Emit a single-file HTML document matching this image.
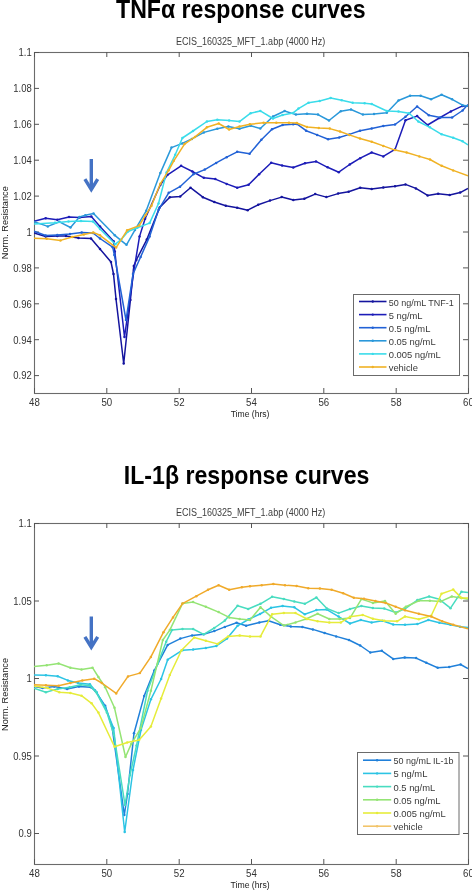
<!DOCTYPE html>
<html><head><meta charset="utf-8"><style>
html,body{margin:0;padding:0;background:#fff;}
body{width:472px;height:890px;overflow:hidden;position:relative;}
svg{position:absolute;left:0;top:0;will-change:transform;}
.t{font-family:"Liberation Sans",sans-serif;font-weight:bold;font-size:26px;fill:#000;}
.st{font-family:"Liberation Sans",sans-serif;font-size:10px;fill:#404040;}
.tk{font-family:"Liberation Sans",sans-serif;font-size:10px;fill:#333;}
.lg{font-family:"Liberation Sans",sans-serif;font-size:9.4px;fill:#3a3a3a;}
.ax{font-family:"Liberation Sans",sans-serif;font-size:9.6px;fill:#222;}
path{fill:none;stroke-width:1.5;stroke-linejoin:round;}
</style></head><body>
<svg width="472" height="890" viewBox="0 0 472 890">
<text x="116" y="17.6" class="t" textLength="249.5" lengthAdjust="spacingAndGlyphs">TNFα response curves</text>
<text x="176" y="45.4" class="st" textLength="149.2" lengthAdjust="spacingAndGlyphs">ECIS_160325_MFT_1.abp (4000 Hz)</text>
<text x="230.7" y="416.8" class="ax" textLength="38.8" lengthAdjust="spacingAndGlyphs">Time (hrs)</text>
<text transform="translate(7.6,259.2) rotate(-90)" class="ax" textLength="73" lengthAdjust="spacingAndGlyphs">Norm. Resistance</text>
<text x="123.8" y="483.6" class="t" textLength="245.6" lengthAdjust="spacingAndGlyphs">IL-1β response curves</text>
<text x="176" y="515.6" class="st" textLength="149.2" lengthAdjust="spacingAndGlyphs">ECIS_160325_MFT_1.abp (4000 Hz)</text>
<text x="230.5" y="887.5" class="ax" textLength="39.2" lengthAdjust="spacingAndGlyphs">Time (hrs)</text>
<text transform="translate(7.6,731) rotate(-90)" class="ax" textLength="73" lengthAdjust="spacingAndGlyphs">Norm. Resistance</text>
<clipPath id="c1"><rect x="34" y="52" width="434" height="341"/></clipPath>
<rect x="34.5" y="52.5" width="434" height="341" fill="none" stroke="#6b6b6b" stroke-width="1.1"/>
<line x1="34.5" y1="393" x2="34.5" y2="388" stroke="#555" stroke-width="1"/>
<line x1="34.5" y1="52" x2="34.5" y2="57" stroke="#555" stroke-width="1"/>
<line x1="106.8" y1="393" x2="106.8" y2="388" stroke="#555" stroke-width="1"/>
<line x1="106.8" y1="52" x2="106.8" y2="57" stroke="#555" stroke-width="1"/>
<line x1="179.2" y1="393" x2="179.2" y2="388" stroke="#555" stroke-width="1"/>
<line x1="179.2" y1="52" x2="179.2" y2="57" stroke="#555" stroke-width="1"/>
<line x1="251.5" y1="393" x2="251.5" y2="388" stroke="#555" stroke-width="1"/>
<line x1="251.5" y1="52" x2="251.5" y2="57" stroke="#555" stroke-width="1"/>
<line x1="323.8" y1="393" x2="323.8" y2="388" stroke="#555" stroke-width="1"/>
<line x1="323.8" y1="52" x2="323.8" y2="57" stroke="#555" stroke-width="1"/>
<line x1="396.2" y1="393" x2="396.2" y2="388" stroke="#555" stroke-width="1"/>
<line x1="396.2" y1="52" x2="396.2" y2="57" stroke="#555" stroke-width="1"/>
<line x1="468.5" y1="393" x2="468.5" y2="388" stroke="#555" stroke-width="1"/>
<line x1="468.5" y1="52" x2="468.5" y2="57" stroke="#555" stroke-width="1"/>
<line x1="34" y1="52.5" x2="39" y2="52.5" stroke="#555" stroke-width="1"/>
<line x1="468" y1="52.5" x2="463" y2="52.5" stroke="#555" stroke-width="1"/>
<line x1="34" y1="88.4" x2="39" y2="88.4" stroke="#555" stroke-width="1"/>
<line x1="468" y1="88.4" x2="463" y2="88.4" stroke="#555" stroke-width="1"/>
<line x1="34" y1="124.3" x2="39" y2="124.3" stroke="#555" stroke-width="1"/>
<line x1="468" y1="124.3" x2="463" y2="124.3" stroke="#555" stroke-width="1"/>
<line x1="34" y1="160.2" x2="39" y2="160.2" stroke="#555" stroke-width="1"/>
<line x1="468" y1="160.2" x2="463" y2="160.2" stroke="#555" stroke-width="1"/>
<line x1="34" y1="196.1" x2="39" y2="196.1" stroke="#555" stroke-width="1"/>
<line x1="468" y1="196.1" x2="463" y2="196.1" stroke="#555" stroke-width="1"/>
<line x1="34" y1="232.0" x2="39" y2="232.0" stroke="#555" stroke-width="1"/>
<line x1="468" y1="232.0" x2="463" y2="232.0" stroke="#555" stroke-width="1"/>
<line x1="34" y1="267.9" x2="39" y2="267.9" stroke="#555" stroke-width="1"/>
<line x1="468" y1="267.9" x2="463" y2="267.9" stroke="#555" stroke-width="1"/>
<line x1="34" y1="303.8" x2="39" y2="303.8" stroke="#555" stroke-width="1"/>
<line x1="468" y1="303.8" x2="463" y2="303.8" stroke="#555" stroke-width="1"/>
<line x1="34" y1="339.7" x2="39" y2="339.7" stroke="#555" stroke-width="1"/>
<line x1="468" y1="339.7" x2="463" y2="339.7" stroke="#555" stroke-width="1"/>
<line x1="34" y1="375.6" x2="39" y2="375.6" stroke="#555" stroke-width="1"/>
<line x1="468" y1="375.6" x2="463" y2="375.6" stroke="#555" stroke-width="1"/>
<path d="M34.0,233.0 L45.7,236.5 L57.3,236.0 L66.0,236.0 L78.5,238.0 L91.0,238.5 L100.0,249.0 L111.0,262.0 L113.5,274.0 L116.0,299.0 L123.7,363.5 L130.4,300.0 L133.8,266.0 L136.3,260.0 L146.8,239.6 L159.7,207.4 L169.8,197.3 L180.2,196.5 L190.5,187.7 L202.9,197.2 L214.3,202.0 L225.8,205.8 L237.2,207.7 L247.7,210.2 L258.2,204.8 L270.0,200.6 L281.7,197.1 L293.3,200.1 L304.3,198.7 L315.2,194.1 L326.4,197.1 L338.1,193.6 L348.6,191.7 L360.2,187.8 L371.7,189.1 L383.3,187.4 L395.0,186.3 L405.5,184.4 L415.9,188.4 L427.6,195.4 L438.1,193.7 L449.7,194.9 L460.2,192.6 L468.0,188.4" stroke="#14149e" clip-path="url(#c1)"/>
<g fill="#14149e"><circle cx="45.7" cy="236.5" r="1.25"/><circle cx="57.3" cy="236.0" r="1.25"/><circle cx="66.0" cy="236.0" r="1.25"/><circle cx="78.5" cy="238.0" r="1.25"/><circle cx="91.0" cy="238.5" r="1.25"/><circle cx="100.0" cy="249.0" r="1.25"/><circle cx="111.0" cy="262.0" r="1.25"/><circle cx="113.5" cy="274.0" r="1.25"/><circle cx="116.0" cy="299.0" r="1.25"/><circle cx="123.7" cy="363.5" r="1.25"/><circle cx="130.4" cy="300.0" r="1.25"/><circle cx="133.8" cy="266.0" r="1.25"/><circle cx="136.3" cy="260.0" r="1.25"/><circle cx="146.8" cy="239.6" r="1.25"/><circle cx="159.7" cy="207.4" r="1.25"/><circle cx="169.8" cy="197.3" r="1.25"/><circle cx="180.2" cy="196.5" r="1.25"/><circle cx="190.5" cy="187.7" r="1.25"/><circle cx="202.9" cy="197.2" r="1.25"/><circle cx="214.3" cy="202.0" r="1.25"/><circle cx="225.8" cy="205.8" r="1.25"/><circle cx="237.2" cy="207.7" r="1.25"/><circle cx="247.7" cy="210.2" r="1.25"/><circle cx="258.2" cy="204.8" r="1.25"/><circle cx="270.0" cy="200.6" r="1.25"/><circle cx="281.7" cy="197.1" r="1.25"/><circle cx="293.3" cy="200.1" r="1.25"/><circle cx="304.3" cy="198.7" r="1.25"/><circle cx="315.2" cy="194.1" r="1.25"/><circle cx="326.4" cy="197.1" r="1.25"/><circle cx="338.1" cy="193.6" r="1.25"/><circle cx="348.6" cy="191.7" r="1.25"/><circle cx="360.2" cy="187.8" r="1.25"/><circle cx="371.7" cy="189.1" r="1.25"/><circle cx="383.3" cy="187.4" r="1.25"/><circle cx="395.0" cy="186.3" r="1.25"/><circle cx="405.5" cy="184.4" r="1.25"/><circle cx="415.9" cy="188.4" r="1.25"/><circle cx="427.6" cy="195.4" r="1.25"/><circle cx="438.1" cy="193.7" r="1.25"/><circle cx="449.7" cy="194.9" r="1.25"/><circle cx="460.2" cy="192.6" r="1.25"/></g>
<path d="M34.0,221.4 L45.7,218.2 L57.3,219.7 L69.0,217.1 L79.6,217.5 L91.3,216.4 L100.0,226.4 L113.6,241.3 L114.8,251.4 L124.5,337.0 L134.0,270.0 L139.5,236.6 L145.1,218.7 L160.3,185.0 L167.6,174.8 L181.1,165.8 L192.4,171.5 L203.8,177.8 L215.3,179.1 L226.7,183.9 L237.2,187.7 L248.6,184.8 L259.1,174.3 L271.2,162.8 L282.1,165.6 L293.3,167.5 L305.0,163.3 L316.0,161.4 L327.6,167.3 L338.8,172.2 L349.7,164.5 L360.2,158.2 L371.7,152.5 L383.3,156.4 L395.0,149.4 L405.5,120.3 L417.1,116.1 L427.6,125.0 L439.3,118.0 L450.9,111.4 L462.6,105.9 L468.0,105.9" stroke="#1c1cb8" clip-path="url(#c1)"/>
<g fill="#1c1cb8"><circle cx="45.7" cy="218.2" r="1.25"/><circle cx="57.3" cy="219.7" r="1.25"/><circle cx="69.0" cy="217.1" r="1.25"/><circle cx="79.6" cy="217.5" r="1.25"/><circle cx="91.3" cy="216.4" r="1.25"/><circle cx="100.0" cy="226.4" r="1.25"/><circle cx="113.6" cy="241.3" r="1.25"/><circle cx="114.8" cy="251.4" r="1.25"/><circle cx="124.5" cy="337.0" r="1.25"/><circle cx="134.0" cy="270.0" r="1.25"/><circle cx="139.5" cy="236.6" r="1.25"/><circle cx="145.1" cy="218.7" r="1.25"/><circle cx="160.3" cy="185.0" r="1.25"/><circle cx="167.6" cy="174.8" r="1.25"/><circle cx="181.1" cy="165.8" r="1.25"/><circle cx="192.4" cy="171.5" r="1.25"/><circle cx="203.8" cy="177.8" r="1.25"/><circle cx="215.3" cy="179.1" r="1.25"/><circle cx="226.7" cy="183.9" r="1.25"/><circle cx="237.2" cy="187.7" r="1.25"/><circle cx="248.6" cy="184.8" r="1.25"/><circle cx="259.1" cy="174.3" r="1.25"/><circle cx="271.2" cy="162.8" r="1.25"/><circle cx="282.1" cy="165.6" r="1.25"/><circle cx="293.3" cy="167.5" r="1.25"/><circle cx="305.0" cy="163.3" r="1.25"/><circle cx="316.0" cy="161.4" r="1.25"/><circle cx="327.6" cy="167.3" r="1.25"/><circle cx="338.8" cy="172.2" r="1.25"/><circle cx="349.7" cy="164.5" r="1.25"/><circle cx="360.2" cy="158.2" r="1.25"/><circle cx="371.7" cy="152.5" r="1.25"/><circle cx="383.3" cy="156.4" r="1.25"/><circle cx="395.0" cy="149.4" r="1.25"/><circle cx="405.5" cy="120.3" r="1.25"/><circle cx="417.1" cy="116.1" r="1.25"/><circle cx="427.6" cy="125.0" r="1.25"/><circle cx="439.3" cy="118.0" r="1.25"/><circle cx="450.9" cy="111.4" r="1.25"/><circle cx="462.6" cy="105.9" r="1.25"/></g>
<path d="M34.0,231.3 L45.7,235.5 L57.3,234.9 L70.0,234.0 L81.7,232.4 L93.0,233.0 L100.0,238.5 L112.7,247.2 L114.4,255.0 L126.0,320.0 L133.0,274.0 L140.6,257.0 L149.6,236.6 L158.6,209.7 L168.7,192.8 L180.0,186.7 L193.3,174.3 L204.8,169.6 L216.2,162.9 L226.7,157.2 L237.2,151.8 L249.6,153.7 L261.4,139.8 L272.0,129.2 L282.6,125.0 L293.2,124.3 L296.8,123.9 L306.1,130.7 L317.1,134.9 L328.1,139.2 L339.2,137.5 L349.3,134.4 L360.0,130.8 L371.7,128.5 L383.3,126.1 L395.0,124.5 L405.5,116.8 L417.1,106.5 L428.8,115.2 L440.4,117.5 L452.1,117.5 L462.6,110.5 L468.0,104.5" stroke="#2262d6" clip-path="url(#c1)"/>
<g fill="#2262d6"><circle cx="45.7" cy="235.5" r="1.25"/><circle cx="57.3" cy="234.9" r="1.25"/><circle cx="70.0" cy="234.0" r="1.25"/><circle cx="81.7" cy="232.4" r="1.25"/><circle cx="93.0" cy="233.0" r="1.25"/><circle cx="100.0" cy="238.5" r="1.25"/><circle cx="112.7" cy="247.2" r="1.25"/><circle cx="114.4" cy="255.0" r="1.25"/><circle cx="126.0" cy="320.0" r="1.25"/><circle cx="133.0" cy="274.0" r="1.25"/><circle cx="140.6" cy="257.0" r="1.25"/><circle cx="149.6" cy="236.6" r="1.25"/><circle cx="158.6" cy="209.7" r="1.25"/><circle cx="168.7" cy="192.8" r="1.25"/><circle cx="180.0" cy="186.7" r="1.25"/><circle cx="193.3" cy="174.3" r="1.25"/><circle cx="204.8" cy="169.6" r="1.25"/><circle cx="216.2" cy="162.9" r="1.25"/><circle cx="226.7" cy="157.2" r="1.25"/><circle cx="237.2" cy="151.8" r="1.25"/><circle cx="249.6" cy="153.7" r="1.25"/><circle cx="261.4" cy="139.8" r="1.25"/><circle cx="272.0" cy="129.2" r="1.25"/><circle cx="282.6" cy="125.0" r="1.25"/><circle cx="293.2" cy="124.3" r="1.25"/><circle cx="296.8" cy="123.9" r="1.25"/><circle cx="306.1" cy="130.7" r="1.25"/><circle cx="317.1" cy="134.9" r="1.25"/><circle cx="328.1" cy="139.2" r="1.25"/><circle cx="339.2" cy="137.5" r="1.25"/><circle cx="349.3" cy="134.4" r="1.25"/><circle cx="360.0" cy="130.8" r="1.25"/><circle cx="371.7" cy="128.5" r="1.25"/><circle cx="383.3" cy="126.1" r="1.25"/><circle cx="395.0" cy="124.5" r="1.25"/><circle cx="405.5" cy="116.8" r="1.25"/><circle cx="417.1" cy="106.5" r="1.25"/><circle cx="428.8" cy="115.2" r="1.25"/><circle cx="440.4" cy="117.5" r="1.25"/><circle cx="452.1" cy="117.5" r="1.25"/><circle cx="462.6" cy="110.5" r="1.25"/></g>
<path d="M34.0,221.8 L47.8,226.4 L59.4,221.8 L70.5,227.5 L79.5,216.9 L85.4,215.2 L93.5,213.5 L114.8,235.3 L126.5,244.8 L135.0,229.9 L146.2,210.8 L160.3,173.1 L171.5,147.6 L182.2,143.4 L191.9,138.9 L203.9,132.4 L217.3,128.7 L228.4,126.5 L239.5,128.7 L250.6,125.8 L260.3,128.5 L273.0,116.5 L284.6,111.0 L295.9,114.6 L307.0,113.7 L318.0,114.6 L329.0,120.5 L340.8,111.2 L351.0,109.5 L362.9,114.6 L374.0,114.0 L386.8,112.8 L398.5,100.5 L410.1,95.8 L420.6,95.8 L431.1,99.3 L441.6,94.7 L452.1,99.3 L462.6,105.2 L468.0,105.9" stroke="#2a98da" clip-path="url(#c1)"/>
<g fill="#2a98da"><circle cx="47.8" cy="226.4" r="1.25"/><circle cx="59.4" cy="221.8" r="1.25"/><circle cx="70.5" cy="227.5" r="1.25"/><circle cx="79.5" cy="216.9" r="1.25"/><circle cx="85.4" cy="215.2" r="1.25"/><circle cx="93.5" cy="213.5" r="1.25"/><circle cx="114.8" cy="235.3" r="1.25"/><circle cx="126.5" cy="244.8" r="1.25"/><circle cx="135.0" cy="229.9" r="1.25"/><circle cx="146.2" cy="210.8" r="1.25"/><circle cx="160.3" cy="173.1" r="1.25"/><circle cx="171.5" cy="147.6" r="1.25"/><circle cx="182.2" cy="143.4" r="1.25"/><circle cx="191.9" cy="138.9" r="1.25"/><circle cx="203.9" cy="132.4" r="1.25"/><circle cx="217.3" cy="128.7" r="1.25"/><circle cx="228.4" cy="126.5" r="1.25"/><circle cx="239.5" cy="128.7" r="1.25"/><circle cx="250.6" cy="125.8" r="1.25"/><circle cx="260.3" cy="128.5" r="1.25"/><circle cx="273.0" cy="116.5" r="1.25"/><circle cx="284.6" cy="111.0" r="1.25"/><circle cx="295.9" cy="114.6" r="1.25"/><circle cx="307.0" cy="113.7" r="1.25"/><circle cx="318.0" cy="114.6" r="1.25"/><circle cx="329.0" cy="120.5" r="1.25"/><circle cx="340.8" cy="111.2" r="1.25"/><circle cx="351.0" cy="109.5" r="1.25"/><circle cx="362.9" cy="114.6" r="1.25"/><circle cx="374.0" cy="114.0" r="1.25"/><circle cx="386.8" cy="112.8" r="1.25"/><circle cx="398.5" cy="100.5" r="1.25"/><circle cx="410.1" cy="95.8" r="1.25"/><circle cx="420.6" cy="95.8" r="1.25"/><circle cx="431.1" cy="99.3" r="1.25"/><circle cx="441.6" cy="94.7" r="1.25"/><circle cx="452.1" cy="99.3" r="1.25"/><circle cx="462.6" cy="105.2" r="1.25"/></g>
<path d="M34.0,223.9 L55.0,222.8 L68.5,221.5 L81.0,221.1 L93.0,221.5 L100.0,229.0 L115.3,244.2 L121.2,239.6 L128.0,231.5 L137.3,227.7 L149.6,223.1 L158.5,203.5 L166.5,172.6 L175.2,154.8 L182.4,138.0 L193.0,131.0 L206.9,121.5 L217.3,119.8 L229.1,120.6 L239.5,121.6 L250.6,113.2 L260.3,110.9 L273.0,118.5 L282.6,115.0 L293.2,112.9 L298.5,108.6 L308.6,102.7 L319.7,101.0 L330.7,98.1 L341.7,100.2 L352.7,102.7 L364.6,103.2 L371.7,104.0 L386.8,111.0 L398.5,111.4 L409.0,113.3 L418.3,121.5 L429.9,127.3 L441.6,134.3 L453.2,137.8 L462.6,141.3 L468.0,144.8" stroke="#3adcea" clip-path="url(#c1)"/>
<g fill="#3adcea"><circle cx="55.0" cy="222.8" r="1.25"/><circle cx="68.5" cy="221.5" r="1.25"/><circle cx="81.0" cy="221.1" r="1.25"/><circle cx="93.0" cy="221.5" r="1.25"/><circle cx="100.0" cy="229.0" r="1.25"/><circle cx="115.3" cy="244.2" r="1.25"/><circle cx="121.2" cy="239.6" r="1.25"/><circle cx="128.0" cy="231.5" r="1.25"/><circle cx="137.3" cy="227.7" r="1.25"/><circle cx="149.6" cy="223.1" r="1.25"/><circle cx="158.5" cy="203.5" r="1.25"/><circle cx="166.5" cy="172.6" r="1.25"/><circle cx="175.2" cy="154.8" r="1.25"/><circle cx="182.4" cy="138.0" r="1.25"/><circle cx="193.0" cy="131.0" r="1.25"/><circle cx="206.9" cy="121.5" r="1.25"/><circle cx="217.3" cy="119.8" r="1.25"/><circle cx="229.1" cy="120.6" r="1.25"/><circle cx="239.5" cy="121.6" r="1.25"/><circle cx="250.6" cy="113.2" r="1.25"/><circle cx="260.3" cy="110.9" r="1.25"/><circle cx="273.0" cy="118.5" r="1.25"/><circle cx="282.6" cy="115.0" r="1.25"/><circle cx="293.2" cy="112.9" r="1.25"/><circle cx="298.5" cy="108.6" r="1.25"/><circle cx="308.6" cy="102.7" r="1.25"/><circle cx="319.7" cy="101.0" r="1.25"/><circle cx="330.7" cy="98.1" r="1.25"/><circle cx="341.7" cy="100.2" r="1.25"/><circle cx="352.7" cy="102.7" r="1.25"/><circle cx="364.6" cy="103.2" r="1.25"/><circle cx="371.7" cy="104.0" r="1.25"/><circle cx="386.8" cy="111.0" r="1.25"/><circle cx="398.5" cy="111.4" r="1.25"/><circle cx="409.0" cy="113.3" r="1.25"/><circle cx="418.3" cy="121.5" r="1.25"/><circle cx="429.9" cy="127.3" r="1.25"/><circle cx="441.6" cy="134.3" r="1.25"/><circle cx="453.2" cy="137.8" r="1.25"/><circle cx="462.6" cy="141.3" r="1.25"/></g>
<path d="M34.0,238.3 L46.7,238.7 L60.5,240.4 L72.1,237.0 L83.8,234.5 L93.3,232.4 L100.0,235.3 L116.1,247.6 L127.1,230.3 L139.2,225.6 L145.6,215.1 L151.5,205.8 L160.3,183.8 L168.7,170.3 L173.8,160.8 L184.5,144.1 L195.0,136.9 L206.9,127.3 L218.7,123.5 L229.1,129.5 L239.5,126.5 L249.9,124.3 L263.6,122.8 L276.3,122.8 L289.0,122.8 L296.8,123.0 L307.0,127.0 L318.8,128.1 L329.8,128.6 L340.0,131.5 L349.3,134.9 L360.0,138.5 L371.7,141.7 L383.3,145.9 L395.0,150.1 L406.6,152.5 L419.4,156.4 L430.0,159.5 L441.6,165.8 L453.2,170.4 L468.0,175.8" stroke="#f0b224" clip-path="url(#c1)"/>
<g fill="#f0b224"><circle cx="46.7" cy="238.7" r="1.25"/><circle cx="60.5" cy="240.4" r="1.25"/><circle cx="72.1" cy="237.0" r="1.25"/><circle cx="83.8" cy="234.5" r="1.25"/><circle cx="93.3" cy="232.4" r="1.25"/><circle cx="100.0" cy="235.3" r="1.25"/><circle cx="116.1" cy="247.6" r="1.25"/><circle cx="127.1" cy="230.3" r="1.25"/><circle cx="139.2" cy="225.6" r="1.25"/><circle cx="145.6" cy="215.1" r="1.25"/><circle cx="151.5" cy="205.8" r="1.25"/><circle cx="160.3" cy="183.8" r="1.25"/><circle cx="168.7" cy="170.3" r="1.25"/><circle cx="173.8" cy="160.8" r="1.25"/><circle cx="184.5" cy="144.1" r="1.25"/><circle cx="195.0" cy="136.9" r="1.25"/><circle cx="206.9" cy="127.3" r="1.25"/><circle cx="218.7" cy="123.5" r="1.25"/><circle cx="229.1" cy="129.5" r="1.25"/><circle cx="239.5" cy="126.5" r="1.25"/><circle cx="249.9" cy="124.3" r="1.25"/><circle cx="263.6" cy="122.8" r="1.25"/><circle cx="276.3" cy="122.8" r="1.25"/><circle cx="289.0" cy="122.8" r="1.25"/><circle cx="296.8" cy="123.0" r="1.25"/><circle cx="307.0" cy="127.0" r="1.25"/><circle cx="318.8" cy="128.1" r="1.25"/><circle cx="329.8" cy="128.6" r="1.25"/><circle cx="340.0" cy="131.5" r="1.25"/><circle cx="349.3" cy="134.9" r="1.25"/><circle cx="360.0" cy="138.5" r="1.25"/><circle cx="371.7" cy="141.7" r="1.25"/><circle cx="383.3" cy="145.9" r="1.25"/><circle cx="395.0" cy="150.1" r="1.25"/><circle cx="406.6" cy="152.5" r="1.25"/><circle cx="419.4" cy="156.4" r="1.25"/><circle cx="430.0" cy="159.5" r="1.25"/><circle cx="441.6" cy="165.8" r="1.25"/><circle cx="453.2" cy="170.4" r="1.25"/></g>
<text transform="translate(31.7,56.40) scale(0.95,1)" text-anchor="end" class="tk">1.1</text>
<text transform="translate(31.7,92.29) scale(0.95,1)" text-anchor="end" class="tk">1.08</text>
<text transform="translate(31.7,128.19) scale(0.95,1)" text-anchor="end" class="tk">1.06</text>
<text transform="translate(31.7,164.08) scale(0.95,1)" text-anchor="end" class="tk">1.04</text>
<text transform="translate(31.7,199.98) scale(0.95,1)" text-anchor="end" class="tk">1.02</text>
<text transform="translate(31.7,235.87) scale(0.95,1)" text-anchor="end" class="tk">1</text>
<text transform="translate(31.7,271.77) scale(0.95,1)" text-anchor="end" class="tk">0.98</text>
<text transform="translate(31.7,307.66) scale(0.95,1)" text-anchor="end" class="tk">0.96</text>
<text transform="translate(31.7,343.56) scale(0.95,1)" text-anchor="end" class="tk">0.94</text>
<text transform="translate(31.7,379.45) scale(0.95,1)" text-anchor="end" class="tk">0.92</text>
<text transform="translate(34.50,405.50) scale(0.97,1)" text-anchor="middle" class="tk">48</text>
<text transform="translate(106.83,405.50) scale(0.97,1)" text-anchor="middle" class="tk">50</text>
<text transform="translate(179.17,405.50) scale(0.97,1)" text-anchor="middle" class="tk">52</text>
<text transform="translate(251.50,405.50) scale(0.97,1)" text-anchor="middle" class="tk">54</text>
<text transform="translate(323.83,405.50) scale(0.97,1)" text-anchor="middle" class="tk">56</text>
<text transform="translate(396.17,405.50) scale(0.97,1)" text-anchor="middle" class="tk">58</text>
<text transform="translate(468.50,405.50) scale(0.97,1)" text-anchor="middle" class="tk">60</text>
<rect x="353.5" y="294.5" width="106" height="81" fill="#fff" stroke="#6b6b6b" stroke-width="1"/>
<line x1="359" y1="301.5" x2="386.5" y2="301.5" stroke="#14149e" stroke-width="1.6"/>
<circle cx="372.75" cy="301.5" r="1.2" fill="#14149e"/>
<text x="388.7" y="305.5" class="lg" textLength="65" lengthAdjust="spacingAndGlyphs">50 ng/mL TNF-1</text>
<line x1="359" y1="314.6" x2="386.5" y2="314.6" stroke="#1c1cb8" stroke-width="1.6"/>
<circle cx="372.75" cy="314.6" r="1.2" fill="#1c1cb8"/>
<text x="388.7" y="318.6" class="lg">5 ng/mL</text>
<line x1="359" y1="327.7" x2="386.5" y2="327.7" stroke="#2262d6" stroke-width="1.6"/>
<circle cx="372.75" cy="327.7" r="1.2" fill="#2262d6"/>
<text x="388.7" y="331.7" class="lg">0.5 ng/mL</text>
<line x1="359" y1="340.8" x2="386.5" y2="340.8" stroke="#2a98da" stroke-width="1.6"/>
<circle cx="372.75" cy="340.8" r="1.2" fill="#2a98da"/>
<text x="388.7" y="344.8" class="lg">0.05 ng/mL</text>
<line x1="359" y1="353.9" x2="386.5" y2="353.9" stroke="#3adcea" stroke-width="1.6"/>
<circle cx="372.75" cy="353.9" r="1.2" fill="#3adcea"/>
<text x="388.7" y="357.9" class="lg">0.005 ng/mL</text>
<line x1="359" y1="367.0" x2="386.5" y2="367.0" stroke="#f0b224" stroke-width="1.6"/>
<circle cx="372.75" cy="367.0" r="1.2" fill="#f0b224"/>
<text x="388.7" y="371.0" class="lg">vehicle</text>
<g stroke="#4472c4" stroke-width="3.4" fill="none" stroke-linecap="butt" stroke-linejoin="miter"><line x1="91.3" y1="159" x2="91.3" y2="189"/><polyline points="84.89999999999999,179.2 91.3,189.6 97.7,179.2"/></g>
<clipPath id="c2"><rect x="34" y="523" width="434" height="341"/></clipPath>
<rect x="34.5" y="523.5" width="434" height="341" fill="none" stroke="#6b6b6b" stroke-width="1.1"/>
<line x1="34.5" y1="864" x2="34.5" y2="859" stroke="#555" stroke-width="1"/>
<line x1="34.5" y1="523" x2="34.5" y2="528" stroke="#555" stroke-width="1"/>
<line x1="106.8" y1="864" x2="106.8" y2="859" stroke="#555" stroke-width="1"/>
<line x1="106.8" y1="523" x2="106.8" y2="528" stroke="#555" stroke-width="1"/>
<line x1="179.2" y1="864" x2="179.2" y2="859" stroke="#555" stroke-width="1"/>
<line x1="179.2" y1="523" x2="179.2" y2="528" stroke="#555" stroke-width="1"/>
<line x1="251.5" y1="864" x2="251.5" y2="859" stroke="#555" stroke-width="1"/>
<line x1="251.5" y1="523" x2="251.5" y2="528" stroke="#555" stroke-width="1"/>
<line x1="323.8" y1="864" x2="323.8" y2="859" stroke="#555" stroke-width="1"/>
<line x1="323.8" y1="523" x2="323.8" y2="528" stroke="#555" stroke-width="1"/>
<line x1="396.2" y1="864" x2="396.2" y2="859" stroke="#555" stroke-width="1"/>
<line x1="396.2" y1="523" x2="396.2" y2="528" stroke="#555" stroke-width="1"/>
<line x1="468.5" y1="864" x2="468.5" y2="859" stroke="#555" stroke-width="1"/>
<line x1="468.5" y1="523" x2="468.5" y2="528" stroke="#555" stroke-width="1"/>
<line x1="34" y1="523.5" x2="39" y2="523.5" stroke="#555" stroke-width="1"/>
<line x1="468" y1="523.5" x2="463" y2="523.5" stroke="#555" stroke-width="1"/>
<line x1="34" y1="601.0" x2="39" y2="601.0" stroke="#555" stroke-width="1"/>
<line x1="468" y1="601.0" x2="463" y2="601.0" stroke="#555" stroke-width="1"/>
<line x1="34" y1="678.5" x2="39" y2="678.5" stroke="#555" stroke-width="1"/>
<line x1="468" y1="678.5" x2="463" y2="678.5" stroke="#555" stroke-width="1"/>
<line x1="34" y1="756.0" x2="39" y2="756.0" stroke="#555" stroke-width="1"/>
<line x1="468" y1="756.0" x2="463" y2="756.0" stroke="#555" stroke-width="1"/>
<line x1="34" y1="833.5" x2="39" y2="833.5" stroke="#555" stroke-width="1"/>
<line x1="468" y1="833.5" x2="463" y2="833.5" stroke="#555" stroke-width="1"/>
<path d="M34.0,686.4 L42.5,688.1 L54.3,686.4 L67.1,688.9 L78.9,686.4 L90.8,687.2 L95.0,690.6 L105.2,705.8 L112.0,726.4 L124.3,815.0 L127.5,794.0 L134.0,733.2 L144.2,695.9 L154.3,670.5 L167.7,644.9 L180.4,638.6 L192.1,635.4 L203.7,634.3 L214.3,631.1 L224.9,626.9 L236.6,622.7 L246.1,625.8 L259.3,622.4 L268.6,620.8 L280.3,624.8 L290.8,626.4 L302.4,627.1 L312.9,629.4 L324.6,633.0 L336.2,636.4 L349.0,640.0 L360.2,645.5 L370.3,652.5 L381.8,650.8 L393.2,658.9 L404.7,657.6 L416.1,658.1 L426.3,662.7 L437.7,667.8 L449.2,667.0 L460.6,664.5 L468.0,668.6" stroke="#2080da" clip-path="url(#c2)"/>
<g fill="#2080da"><circle cx="42.5" cy="688.1" r="1.25"/><circle cx="54.3" cy="686.4" r="1.25"/><circle cx="67.1" cy="688.9" r="1.25"/><circle cx="78.9" cy="686.4" r="1.25"/><circle cx="90.8" cy="687.2" r="1.25"/><circle cx="95.0" cy="690.6" r="1.25"/><circle cx="105.2" cy="705.8" r="1.25"/><circle cx="112.0" cy="726.4" r="1.25"/><circle cx="124.3" cy="815.0" r="1.25"/><circle cx="127.5" cy="794.0" r="1.25"/><circle cx="134.0" cy="733.2" r="1.25"/><circle cx="144.2" cy="695.9" r="1.25"/><circle cx="154.3" cy="670.5" r="1.25"/><circle cx="167.7" cy="644.9" r="1.25"/><circle cx="180.4" cy="638.6" r="1.25"/><circle cx="192.1" cy="635.4" r="1.25"/><circle cx="203.7" cy="634.3" r="1.25"/><circle cx="214.3" cy="631.1" r="1.25"/><circle cx="224.9" cy="626.9" r="1.25"/><circle cx="236.6" cy="622.7" r="1.25"/><circle cx="246.1" cy="625.8" r="1.25"/><circle cx="259.3" cy="622.4" r="1.25"/><circle cx="268.6" cy="620.8" r="1.25"/><circle cx="280.3" cy="624.8" r="1.25"/><circle cx="290.8" cy="626.4" r="1.25"/><circle cx="302.4" cy="627.1" r="1.25"/><circle cx="312.9" cy="629.4" r="1.25"/><circle cx="324.6" cy="633.0" r="1.25"/><circle cx="336.2" cy="636.4" r="1.25"/><circle cx="349.0" cy="640.0" r="1.25"/><circle cx="360.2" cy="645.5" r="1.25"/><circle cx="370.3" cy="652.5" r="1.25"/><circle cx="381.8" cy="650.8" r="1.25"/><circle cx="393.2" cy="658.9" r="1.25"/><circle cx="404.7" cy="657.6" r="1.25"/><circle cx="416.1" cy="658.1" r="1.25"/><circle cx="426.3" cy="662.7" r="1.25"/><circle cx="437.7" cy="667.8" r="1.25"/><circle cx="449.2" cy="667.0" r="1.25"/><circle cx="460.6" cy="664.5" r="1.25"/></g>
<path d="M34.0,675.0 L45.9,675.3 L57.7,676.2 L67.9,680.4 L78.1,683.0 L89.9,684.2 L96.7,692.3 L105.2,707.5 L113.6,728.1 L124.7,832.0 L133.0,770.0 L141.0,730.0 L150.9,699.3 L161.1,679.0 L167.7,659.7 L182.5,650.2 L193.1,649.6 L205.8,648.1 L216.4,646.0 L227.0,638.6 L237.6,625.8 L248.2,619.5 L260.0,614.0 L271.0,607.8 L282.6,606.1 L294.3,607.3 L304.8,614.3 L316.4,610.1 L326.9,609.6 L338.6,616.6 L350.0,623.5 L360.8,620.0 L371.6,622.6 L382.4,620.7 L393.2,624.5 L405.0,624.8 L417.4,624.1 L428.4,620.0 L439.4,622.7 L450.5,624.8 L460.1,626.8 L468.0,627.5" stroke="#2cc4e4" clip-path="url(#c2)"/>
<g fill="#2cc4e4"><circle cx="45.9" cy="675.3" r="1.25"/><circle cx="57.7" cy="676.2" r="1.25"/><circle cx="67.9" cy="680.4" r="1.25"/><circle cx="78.1" cy="683.0" r="1.25"/><circle cx="89.9" cy="684.2" r="1.25"/><circle cx="96.7" cy="692.3" r="1.25"/><circle cx="105.2" cy="707.5" r="1.25"/><circle cx="113.6" cy="728.1" r="1.25"/><circle cx="124.7" cy="832.0" r="1.25"/><circle cx="133.0" cy="770.0" r="1.25"/><circle cx="141.0" cy="730.0" r="1.25"/><circle cx="150.9" cy="699.3" r="1.25"/><circle cx="161.1" cy="679.0" r="1.25"/><circle cx="167.7" cy="659.7" r="1.25"/><circle cx="182.5" cy="650.2" r="1.25"/><circle cx="193.1" cy="649.6" r="1.25"/><circle cx="205.8" cy="648.1" r="1.25"/><circle cx="216.4" cy="646.0" r="1.25"/><circle cx="227.0" cy="638.6" r="1.25"/><circle cx="237.6" cy="625.8" r="1.25"/><circle cx="248.2" cy="619.5" r="1.25"/><circle cx="260.0" cy="614.0" r="1.25"/><circle cx="271.0" cy="607.8" r="1.25"/><circle cx="282.6" cy="606.1" r="1.25"/><circle cx="294.3" cy="607.3" r="1.25"/><circle cx="304.8" cy="614.3" r="1.25"/><circle cx="316.4" cy="610.1" r="1.25"/><circle cx="326.9" cy="609.6" r="1.25"/><circle cx="338.6" cy="616.6" r="1.25"/><circle cx="350.0" cy="623.5" r="1.25"/><circle cx="360.8" cy="620.0" r="1.25"/><circle cx="371.6" cy="622.6" r="1.25"/><circle cx="382.4" cy="620.7" r="1.25"/><circle cx="393.2" cy="624.5" r="1.25"/><circle cx="405.0" cy="624.8" r="1.25"/><circle cx="417.4" cy="624.1" r="1.25"/><circle cx="428.4" cy="620.0" r="1.25"/><circle cx="439.4" cy="622.7" r="1.25"/><circle cx="450.5" cy="624.8" r="1.25"/><circle cx="460.1" cy="626.8" r="1.25"/></g>
<path d="M34.0,688.1 L45.9,692.3 L57.7,688.9 L69.6,687.2 L80.6,684.7 L89.9,685.8 L96.0,692.0 L106.9,712.6 L114.0,735.0 L125.0,805.0 L130.0,775.0 L136.5,745.6 L147.5,690.8 L157.7,663.7 L166.2,641.7 L172.0,630.1 L182.5,629.0 L193.1,629.0 L203.7,634.3 L214.3,628.0 L224.9,620.6 L237.6,605.7 L248.2,609.0 L260.5,603.8 L272.1,596.8 L283.8,599.1 L294.3,601.5 L304.8,603.8 L316.4,597.5 L326.9,608.5 L338.6,613.1 L350.0,609.0 L361.4,606.0 L372.9,607.9 L384.3,608.6 L395.8,612.5 L405.0,608.9 L417.4,600.0 L429.1,596.5 L439.4,599.3 L450.5,608.2 L461.5,591.7 L468.0,592.4" stroke="#48dcc0" clip-path="url(#c2)"/>
<g fill="#48dcc0"><circle cx="45.9" cy="692.3" r="1.25"/><circle cx="57.7" cy="688.9" r="1.25"/><circle cx="69.6" cy="687.2" r="1.25"/><circle cx="80.6" cy="684.7" r="1.25"/><circle cx="89.9" cy="685.8" r="1.25"/><circle cx="96.0" cy="692.0" r="1.25"/><circle cx="106.9" cy="712.6" r="1.25"/><circle cx="114.0" cy="735.0" r="1.25"/><circle cx="125.0" cy="805.0" r="1.25"/><circle cx="130.0" cy="775.0" r="1.25"/><circle cx="136.5" cy="745.6" r="1.25"/><circle cx="147.5" cy="690.8" r="1.25"/><circle cx="157.7" cy="663.7" r="1.25"/><circle cx="166.2" cy="641.7" r="1.25"/><circle cx="172.0" cy="630.1" r="1.25"/><circle cx="182.5" cy="629.0" r="1.25"/><circle cx="193.1" cy="629.0" r="1.25"/><circle cx="203.7" cy="634.3" r="1.25"/><circle cx="214.3" cy="628.0" r="1.25"/><circle cx="224.9" cy="620.6" r="1.25"/><circle cx="237.6" cy="605.7" r="1.25"/><circle cx="248.2" cy="609.0" r="1.25"/><circle cx="260.5" cy="603.8" r="1.25"/><circle cx="272.1" cy="596.8" r="1.25"/><circle cx="283.8" cy="599.1" r="1.25"/><circle cx="294.3" cy="601.5" r="1.25"/><circle cx="304.8" cy="603.8" r="1.25"/><circle cx="316.4" cy="597.5" r="1.25"/><circle cx="326.9" cy="608.5" r="1.25"/><circle cx="338.6" cy="613.1" r="1.25"/><circle cx="350.0" cy="609.0" r="1.25"/><circle cx="361.4" cy="606.0" r="1.25"/><circle cx="372.9" cy="607.9" r="1.25"/><circle cx="384.3" cy="608.6" r="1.25"/><circle cx="395.8" cy="612.5" r="1.25"/><circle cx="405.0" cy="608.9" r="1.25"/><circle cx="417.4" cy="600.0" r="1.25"/><circle cx="429.1" cy="596.5" r="1.25"/><circle cx="439.4" cy="599.3" r="1.25"/><circle cx="450.5" cy="608.2" r="1.25"/><circle cx="461.5" cy="591.7" r="1.25"/></g>
<path d="M34.0,666.5 L46.7,665.2 L58.6,663.5 L70.4,667.7 L81.5,669.4 L92.5,667.7 L98.4,677.0 L105.2,687.2 L114.5,707.8 L125.5,757.0 L131.3,743.9 L140.8,728.1 L150.9,690.8 L162.8,640.0 L169.8,630.1 L182.5,603.6 L193.1,602.1 L205.8,606.8 L218.6,612.1 L229.2,617.4 L239.7,619.1 L250.0,620.1 L260.5,607.3 L271.0,616.6 L283.8,625.5 L295.5,622.4 L306.0,619.0 L317.6,613.8 L329.3,619.0 L339.7,619.0 L350.0,618.1 L361.4,599.1 L372.9,602.9 L385.0,601.0 L395.7,613.7 L405.9,606.7 L418.8,600.7 L429.8,600.7 L440.8,601.4 L451.8,596.5 L461.5,597.9 L468.0,599.3" stroke="#94e474" clip-path="url(#c2)"/>
<g fill="#94e474"><circle cx="46.7" cy="665.2" r="1.25"/><circle cx="58.6" cy="663.5" r="1.25"/><circle cx="70.4" cy="667.7" r="1.25"/><circle cx="81.5" cy="669.4" r="1.25"/><circle cx="92.5" cy="667.7" r="1.25"/><circle cx="98.4" cy="677.0" r="1.25"/><circle cx="105.2" cy="687.2" r="1.25"/><circle cx="114.5" cy="707.8" r="1.25"/><circle cx="125.5" cy="757.0" r="1.25"/><circle cx="131.3" cy="743.9" r="1.25"/><circle cx="140.8" cy="728.1" r="1.25"/><circle cx="150.9" cy="690.8" r="1.25"/><circle cx="162.8" cy="640.0" r="1.25"/><circle cx="169.8" cy="630.1" r="1.25"/><circle cx="182.5" cy="603.6" r="1.25"/><circle cx="193.1" cy="602.1" r="1.25"/><circle cx="205.8" cy="606.8" r="1.25"/><circle cx="218.6" cy="612.1" r="1.25"/><circle cx="229.2" cy="617.4" r="1.25"/><circle cx="239.7" cy="619.1" r="1.25"/><circle cx="250.0" cy="620.1" r="1.25"/><circle cx="260.5" cy="607.3" r="1.25"/><circle cx="271.0" cy="616.6" r="1.25"/><circle cx="283.8" cy="625.5" r="1.25"/><circle cx="295.5" cy="622.4" r="1.25"/><circle cx="306.0" cy="619.0" r="1.25"/><circle cx="317.6" cy="613.8" r="1.25"/><circle cx="329.3" cy="619.0" r="1.25"/><circle cx="339.7" cy="619.0" r="1.25"/><circle cx="350.0" cy="618.1" r="1.25"/><circle cx="361.4" cy="599.1" r="1.25"/><circle cx="372.9" cy="602.9" r="1.25"/><circle cx="385.0" cy="601.0" r="1.25"/><circle cx="395.7" cy="613.7" r="1.25"/><circle cx="405.9" cy="606.7" r="1.25"/><circle cx="418.8" cy="600.7" r="1.25"/><circle cx="429.8" cy="600.7" r="1.25"/><circle cx="440.8" cy="601.4" r="1.25"/><circle cx="451.8" cy="596.5" r="1.25"/><circle cx="461.5" cy="597.9" r="1.25"/></g>
<path d="M34.0,686.0 L47.6,688.1 L59.4,692.3 L70.4,693.1 L81.5,695.7 L91.6,703.3 L98.4,712.6 L114.5,746.8 L127.2,742.5 L139.1,740.0 L150.9,726.4 L161.1,698.5 L169.8,675.0 L181.5,650.2 L194.2,637.5 L205.8,640.7 L217.5,643.9 L228.1,636.4 L239.7,635.4 L250.0,636.4 L260.5,636.4 L272.1,614.3 L283.8,613.1 L295.5,613.1 L307.1,619.0 L317.6,621.3 L329.3,622.4 L340.9,622.4 L350.0,616.8 L362.7,614.9 L372.9,618.8 L384.3,620.7 L397.0,621.3 L405.0,616.5 L418.8,619.3 L431.2,615.8 L441.5,593.8 L453.2,589.6 L461.5,597.9 L468.0,597.9" stroke="#e6ec3a" clip-path="url(#c2)"/>
<g fill="#e6ec3a"><circle cx="47.6" cy="688.1" r="1.25"/><circle cx="59.4" cy="692.3" r="1.25"/><circle cx="70.4" cy="693.1" r="1.25"/><circle cx="81.5" cy="695.7" r="1.25"/><circle cx="91.6" cy="703.3" r="1.25"/><circle cx="98.4" cy="712.6" r="1.25"/><circle cx="114.5" cy="746.8" r="1.25"/><circle cx="127.2" cy="742.5" r="1.25"/><circle cx="139.1" cy="740.0" r="1.25"/><circle cx="150.9" cy="726.4" r="1.25"/><circle cx="161.1" cy="698.5" r="1.25"/><circle cx="169.8" cy="675.0" r="1.25"/><circle cx="181.5" cy="650.2" r="1.25"/><circle cx="194.2" cy="637.5" r="1.25"/><circle cx="205.8" cy="640.7" r="1.25"/><circle cx="217.5" cy="643.9" r="1.25"/><circle cx="228.1" cy="636.4" r="1.25"/><circle cx="239.7" cy="635.4" r="1.25"/><circle cx="250.0" cy="636.4" r="1.25"/><circle cx="260.5" cy="636.4" r="1.25"/><circle cx="272.1" cy="614.3" r="1.25"/><circle cx="283.8" cy="613.1" r="1.25"/><circle cx="295.5" cy="613.1" r="1.25"/><circle cx="307.1" cy="619.0" r="1.25"/><circle cx="317.6" cy="621.3" r="1.25"/><circle cx="329.3" cy="622.4" r="1.25"/><circle cx="340.9" cy="622.4" r="1.25"/><circle cx="350.0" cy="616.8" r="1.25"/><circle cx="362.7" cy="614.9" r="1.25"/><circle cx="372.9" cy="618.8" r="1.25"/><circle cx="384.3" cy="620.7" r="1.25"/><circle cx="397.0" cy="621.3" r="1.25"/><circle cx="405.0" cy="616.5" r="1.25"/><circle cx="418.8" cy="619.3" r="1.25"/><circle cx="431.2" cy="615.8" r="1.25"/><circle cx="441.5" cy="593.8" r="1.25"/><circle cx="453.2" cy="589.6" r="1.25"/><circle cx="461.5" cy="597.9" r="1.25"/></g>
<path d="M34.0,684.7 L45.9,685.2 L58.6,685.8 L70.4,683.0 L82.3,680.4 L94.2,678.7 L101.8,683.0 L116.2,693.4 L128.0,676.4 L139.9,673.1 L150.9,656.9 L163.5,632.2 L173.0,617.4 L182.5,603.6 L196.3,596.2 L208.0,589.8 L218.6,585.2 L229.2,589.8 L241.9,587.3 L250.0,586.3 L261.7,585.2 L273.3,584.0 L285.0,585.2 L296.6,585.9 L308.3,588.2 L319.9,588.6 L331.6,589.8 L343.2,593.3 L353.8,597.8 L364.0,598.8 L375.4,601.0 L385.6,602.9 L395.7,606.7 L405.0,610.3 L418.8,613.7 L431.2,616.5 L442.2,621.3 L453.2,624.8 L468.0,628.9" stroke="#f0aa2a" clip-path="url(#c2)"/>
<g fill="#f0aa2a"><circle cx="45.9" cy="685.2" r="1.25"/><circle cx="58.6" cy="685.8" r="1.25"/><circle cx="70.4" cy="683.0" r="1.25"/><circle cx="82.3" cy="680.4" r="1.25"/><circle cx="94.2" cy="678.7" r="1.25"/><circle cx="101.8" cy="683.0" r="1.25"/><circle cx="116.2" cy="693.4" r="1.25"/><circle cx="128.0" cy="676.4" r="1.25"/><circle cx="139.9" cy="673.1" r="1.25"/><circle cx="150.9" cy="656.9" r="1.25"/><circle cx="163.5" cy="632.2" r="1.25"/><circle cx="173.0" cy="617.4" r="1.25"/><circle cx="182.5" cy="603.6" r="1.25"/><circle cx="196.3" cy="596.2" r="1.25"/><circle cx="208.0" cy="589.8" r="1.25"/><circle cx="218.6" cy="585.2" r="1.25"/><circle cx="229.2" cy="589.8" r="1.25"/><circle cx="241.9" cy="587.3" r="1.25"/><circle cx="250.0" cy="586.3" r="1.25"/><circle cx="261.7" cy="585.2" r="1.25"/><circle cx="273.3" cy="584.0" r="1.25"/><circle cx="285.0" cy="585.2" r="1.25"/><circle cx="296.6" cy="585.9" r="1.25"/><circle cx="308.3" cy="588.2" r="1.25"/><circle cx="319.9" cy="588.6" r="1.25"/><circle cx="331.6" cy="589.8" r="1.25"/><circle cx="343.2" cy="593.3" r="1.25"/><circle cx="353.8" cy="597.8" r="1.25"/><circle cx="364.0" cy="598.8" r="1.25"/><circle cx="375.4" cy="601.0" r="1.25"/><circle cx="385.6" cy="602.9" r="1.25"/><circle cx="395.7" cy="606.7" r="1.25"/><circle cx="405.0" cy="610.3" r="1.25"/><circle cx="418.8" cy="613.7" r="1.25"/><circle cx="431.2" cy="616.5" r="1.25"/><circle cx="442.2" cy="621.3" r="1.25"/><circle cx="453.2" cy="624.8" r="1.25"/></g>
<text transform="translate(31.7,527.40) scale(0.95,1)" text-anchor="end" class="tk">1.1</text>
<text transform="translate(31.7,604.90) scale(0.95,1)" text-anchor="end" class="tk">1.05</text>
<text transform="translate(31.7,682.40) scale(0.95,1)" text-anchor="end" class="tk">1</text>
<text transform="translate(31.7,759.90) scale(0.95,1)" text-anchor="end" class="tk">0.95</text>
<text transform="translate(31.7,837.40) scale(0.95,1)" text-anchor="end" class="tk">0.9</text>
<text transform="translate(34.50,876.50) scale(0.97,1)" text-anchor="middle" class="tk">48</text>
<text transform="translate(106.83,876.50) scale(0.97,1)" text-anchor="middle" class="tk">50</text>
<text transform="translate(179.17,876.50) scale(0.97,1)" text-anchor="middle" class="tk">52</text>
<text transform="translate(251.50,876.50) scale(0.97,1)" text-anchor="middle" class="tk">54</text>
<text transform="translate(323.83,876.50) scale(0.97,1)" text-anchor="middle" class="tk">56</text>
<text transform="translate(396.17,876.50) scale(0.97,1)" text-anchor="middle" class="tk">58</text>
<text transform="translate(468.50,876.50) scale(0.97,1)" text-anchor="middle" class="tk">60</text>
<rect x="357.5" y="752.5" width="101.5" height="82" fill="#fff" stroke="#6b6b6b" stroke-width="1"/>
<line x1="363" y1="760.2" x2="391.2" y2="760.2" stroke="#2080da" stroke-width="1.6"/>
<circle cx="377.1" cy="760.2" r="1.2" fill="#2080da"/>
<text x="393.5" y="764.2" class="lg" textLength="60" lengthAdjust="spacingAndGlyphs">50 ng/mL IL-1b</text>
<line x1="363" y1="773.4" x2="391.2" y2="773.4" stroke="#2cc4e4" stroke-width="1.6"/>
<circle cx="377.1" cy="773.4" r="1.2" fill="#2cc4e4"/>
<text x="393.5" y="777.4" class="lg">5 ng/mL</text>
<line x1="363" y1="786.6" x2="391.2" y2="786.6" stroke="#48dcc0" stroke-width="1.6"/>
<circle cx="377.1" cy="786.6" r="1.2" fill="#48dcc0"/>
<text x="393.5" y="790.6" class="lg">0.5 ng/mL</text>
<line x1="363" y1="799.8" x2="391.2" y2="799.8" stroke="#94e474" stroke-width="1.6"/>
<circle cx="377.1" cy="799.8" r="1.2" fill="#94e474"/>
<text x="393.5" y="803.8" class="lg">0.05 ng/mL</text>
<line x1="363" y1="813.0" x2="391.2" y2="813.0" stroke="#e6ec3a" stroke-width="1.6"/>
<circle cx="377.1" cy="813.0" r="1.2" fill="#e6ec3a"/>
<text x="393.5" y="817.0" class="lg">0.005 ng/mL</text>
<line x1="363" y1="826.2" x2="391.2" y2="826.2" stroke="#f2c46a" stroke-width="1.6"/>
<circle cx="377.1" cy="826.2" r="1.2" fill="#f2c46a"/>
<text x="393.5" y="830.2" class="lg">vehicle</text>
<g stroke="#4472c4" stroke-width="3.4" fill="none" stroke-linecap="butt" stroke-linejoin="miter"><line x1="91.3" y1="616.5" x2="91.3" y2="646.6"/><polyline points="84.89999999999999,636.8 91.3,647.2 97.7,636.8"/></g>
</svg>
</body></html>
